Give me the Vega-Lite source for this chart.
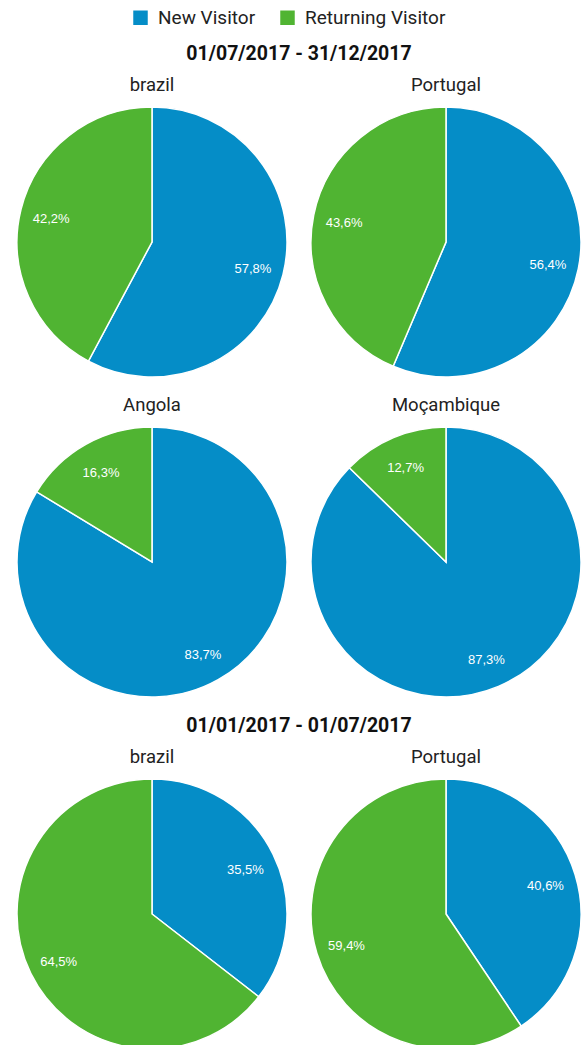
{
  "$schema": "https://vega.github.io/schema/vega-lite/v6.json",
  "padding": {"left": 14, "top": 8, "right": 0, "bottom": 0},
  "background": "white",
  "datasets": {
    "visits": [
      {"section": 1, "country": "brazil", "type": "New Visitor", "value": 57.8, "label": "57,8%"},
      {"section": 1, "country": "brazil", "type": "Returning Visitor", "value": 42.2, "label": "42,2%"},
      {"section": 1, "country": "Portugal", "type": "New Visitor", "value": 56.4, "label": "56,4%"},
      {"section": 1, "country": "Portugal", "type": "Returning Visitor", "value": 43.6, "label": "43,6%"},
      {"section": 1, "country": "Angola", "type": "New Visitor", "value": 83.7, "label": "83,7%"},
      {"section": 1, "country": "Angola", "type": "Returning Visitor", "value": 16.3, "label": "16,3%"},
      {"section": 1, "country": "Moçambique", "type": "New Visitor", "value": 87.3, "label": "87,3%"},
      {"section": 1, "country": "Moçambique", "type": "Returning Visitor", "value": 12.7, "label": "12,7%"},
      {"section": 2, "country": "brazil", "type": "New Visitor", "value": 35.5, "label": "35,5%"},
      {"section": 2, "country": "brazil", "type": "Returning Visitor", "value": 64.5, "label": "64,5%"},
      {"section": 2, "country": "Portugal", "type": "New Visitor", "value": 40.6, "label": "40,6%"},
      {"section": 2, "country": "Portugal", "type": "Returning Visitor", "value": 59.4, "label": "59,4%"}
    ]
  },
  "vconcat": [
    {
      "title": {"text": "01/07/2017 - 31/12/2017", "fontSize": 19.5, "fontWeight": "bold", "color": "#111", "anchor": "middle", "offset": 11},
      "columns": 2,
      "spacing": {"column": 18, "row": 15},
      "resolve": {"scale": {"color": "shared"}},
      "concat": [
        {"title": "brazil", "width": 270, "height": 270, "data": {"name": "visits"},
         "transform": [{"filter": "datum.section == 1 && datum.country == 'brazil'"}],
         "layer": [
           {"mark": {"type": "arc", "outerRadius": 135, "stroke": "white", "strokeWidth": 1.5},
            "encoding": {"theta": {"field": "value", "type": "quantitative", "stack": true},
              "color": {"field": "type", "type": "nominal", "scale": {"domain": ["New Visitor", "Returning Visitor"], "range": ["#058DC7", "#50B432"]},
                "legend": {"orient": "none", "legendX": 114, "legendY": -99, "direction": "horizontal", "title": null, "symbolType": "square", "symbolSize": 210, "symbolStrokeWidth": 0, "labelFontSize": 19, "labelFont": "Roboto", "labelColor": "#222", "labelOffset": 8, "columnPadding": 22}},
              "order": {"field": "type", "type": "nominal", "sort": "ascending"}}},
           {"mark": {"type": "text", "radius": 104, "dy": 2, "fill": "white", "fontSize": 13, "font": "Liberation Sans"},
            "encoding": {"theta": {"field": "value", "type": "quantitative", "stack": true},
              "detail": {"field": "type", "type": "nominal"},
              "order": {"field": "type", "type": "nominal", "sort": "ascending"},
              "text": {"field": "label", "type": "nominal"}}}
         ]},
        {"title": "Portugal", "width": 270, "height": 270, "data": {"name": "visits"},
         "transform": [{"filter": "datum.section == 1 && datum.country == 'Portugal'"}],
         "layer": [
           {"mark": {"type": "arc", "outerRadius": 135, "stroke": "white", "strokeWidth": 1.5},
            "encoding": {"theta": {"field": "value", "type": "quantitative", "stack": true},
              "color": {"field": "type", "type": "nominal"},
              "order": {"field": "type", "type": "nominal", "sort": "ascending"}}},
           {"mark": {"type": "text", "radius": 104, "dy": 2, "fill": "white", "fontSize": 13, "font": "Liberation Sans"},
            "encoding": {"theta": {"field": "value", "type": "quantitative", "stack": true},
              "detail": {"field": "type", "type": "nominal"},
              "order": {"field": "type", "type": "nominal", "sort": "ascending"},
              "text": {"field": "label", "type": "nominal"}}}
         ]},
        {"title": "Angola", "width": 270, "height": 270, "data": {"name": "visits"},
         "transform": [{"filter": "datum.section == 1 && datum.country == 'Angola'"}],
         "layer": [
           {"mark": {"type": "arc", "outerRadius": 135, "stroke": "white", "strokeWidth": 1.5},
            "encoding": {"theta": {"field": "value", "type": "quantitative", "stack": true},
              "color": {"field": "type", "type": "nominal"},
              "order": {"field": "type", "type": "nominal", "sort": "ascending"}}},
           {"mark": {"type": "text", "radius": 104, "dy": 2, "fill": "white", "fontSize": 13, "font": "Liberation Sans"},
            "encoding": {"theta": {"field": "value", "type": "quantitative", "stack": true},
              "detail": {"field": "type", "type": "nominal"},
              "order": {"field": "type", "type": "nominal", "sort": "ascending"},
              "text": {"field": "label", "type": "nominal"}}}
         ]},
        {"title": "Moçambique", "width": 270, "height": 270, "data": {"name": "visits"},
         "transform": [{"filter": "datum.section == 1 && datum.country == 'Moçambique'"}],
         "layer": [
           {"mark": {"type": "arc", "outerRadius": 135, "stroke": "white", "strokeWidth": 1.5},
            "encoding": {"theta": {"field": "value", "type": "quantitative", "stack": true},
              "color": {"field": "type", "type": "nominal"},
              "order": {"field": "type", "type": "nominal", "sort": "ascending"}}},
           {"mark": {"type": "text", "radius": 104, "dy": 2, "fill": "white", "fontSize": 13, "font": "Liberation Sans"},
            "encoding": {"theta": {"field": "value", "type": "quantitative", "stack": true},
              "detail": {"field": "type", "type": "nominal"},
              "order": {"field": "type", "type": "nominal", "sort": "ascending"},
              "text": {"field": "label", "type": "nominal"}}}
         ]}
      ]
    },
    {
      "title": {"text": "01/01/2017 - 01/07/2017", "fontSize": 19.5, "fontWeight": "bold", "color": "#111", "anchor": "middle", "offset": 11},
      "columns": 2,
      "spacing": {"column": 18, "row": 15},
      "resolve": {"scale": {"color": "shared"}},
      "concat": [
        {"title": "brazil", "width": 270, "height": 270, "data": {"name": "visits"},
         "transform": [{"filter": "datum.section == 2 && datum.country == 'brazil'"}],
         "layer": [
           {"mark": {"type": "arc", "outerRadius": 135, "stroke": "white", "strokeWidth": 1.5},
            "encoding": {"theta": {"field": "value", "type": "quantitative", "stack": true},
              "color": {"field": "type", "type": "nominal"},
              "order": {"field": "type", "type": "nominal", "sort": "ascending"}}},
           {"mark": {"type": "text", "radius": 104, "dy": 2, "fill": "white", "fontSize": 13, "font": "Liberation Sans"},
            "encoding": {"theta": {"field": "value", "type": "quantitative", "stack": true},
              "detail": {"field": "type", "type": "nominal"},
              "order": {"field": "type", "type": "nominal", "sort": "ascending"},
              "text": {"field": "label", "type": "nominal"}}}
         ]},
        {"title": "Portugal", "width": 270, "height": 270, "data": {"name": "visits"},
         "transform": [{"filter": "datum.section == 2 && datum.country == 'Portugal'"}],
         "layer": [
           {"mark": {"type": "arc", "outerRadius": 135, "stroke": "white", "strokeWidth": 1.5},
            "encoding": {"theta": {"field": "value", "type": "quantitative", "stack": true},
              "color": {"field": "type", "type": "nominal"},
              "order": {"field": "type", "type": "nominal", "sort": "ascending"}}},
           {"mark": {"type": "text", "radius": 104, "dy": 2, "fill": "white", "fontSize": 13, "font": "Liberation Sans"},
            "encoding": {"theta": {"field": "value", "type": "quantitative", "stack": true},
              "detail": {"field": "type", "type": "nominal"},
              "order": {"field": "type", "type": "nominal", "sort": "ascending"},
              "text": {"field": "label", "type": "nominal"}}}
         ]}
      ]
    }
  ],
  "spacing": 16,
  "resolve": {"scale": {"color": "shared"}},
  "config": {
    "view": {"stroke": null},
    "font": "Roboto",
    "title": {"font": "Roboto", "fontSize": 18.5, "fontWeight": "normal", "color": "#222", "offset": 10}
  }
}
